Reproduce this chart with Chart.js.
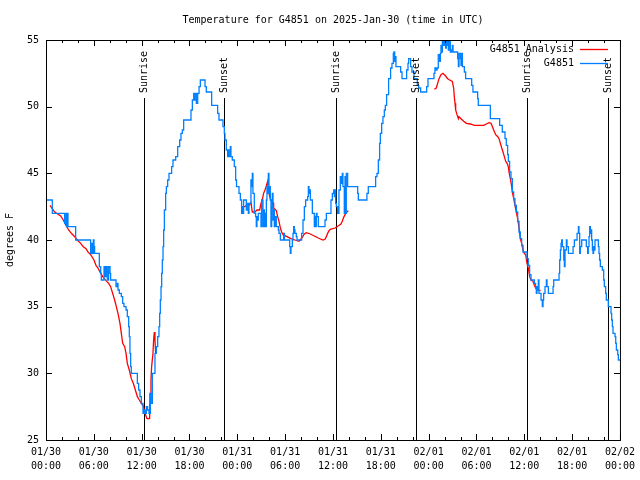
<!DOCTYPE html>
<html>
<head>
<meta charset="utf-8">
<title>Temperature for G4851</title>
<script src="https://cdn.jsdelivr.net/npm/chart.js@4.4.1/dist/chart.umd.min.js"></script>
<style>
  html, body { margin: 0; padding: 0; background: #fff; }
  canvas { display: block; }
</style>
</head>
<body>
<canvas id="chart" width="640" height="480"></canvas>
<script>
// hours since 2025-01-30 00:00 UTC
const obsHours = [0, 0.79, 2.34, 2.51, 2.59, 2.68, 2.76, 3.72, 5.60, 5.77, 5.85, 5.94, 6.02, 6.10, 6.69, 6.86, 6.94, 7.28, 7.44, 7.53,
  7.69, 7.86, 8.03, 8.11, 8.78, 8.95, 9.03, 9.20, 9.45, 9.62, 9.78, 10.04, 10.20, 10.37, 10.45, 10.53, 10.62, 10.70, 11.46, 11.62,
  11.79, 11.96, 12.17, 12.33, 12.42, 12.59, 12.75, 12.92, 13.09, 13.17, 13.34, 13.67, 13.84, 14.01, 14.17, 14.26, 14.34, 14.43, 14.51, 14.59,
  14.68, 14.76, 14.85, 15.01, 15.10, 15.26, 15.43, 15.76, 15.93, 16.27, 16.52, 16.77, 16.93, 17.10, 17.27, 18.19, 18.36, 18.53, 18.61, 18.78,
  18.86, 19.03, 19.20, 19.36, 19.95, 20.11, 20.78, 21.53, 21.70, 22.20, 22.37, 22.45, 22.62, 22.79, 22.87, 22.95, 23.12, 23.20, 23.37, 23.62,
  23.79, 23.90, 24.21, 24.38, 24.54, 24.63, 24.71, 24.79, 25.13, 25.21, 25.38, 25.46, 25.71, 25.80, 25.88, 25.96, 26.13, 26.30, 26.38, 26.46,
  26.55, 26.63, 26.97, 27.05, 27.22, 27.30, 27.39, 27.47, 27.56, 27.64, 27.72, 27.81, 27.89, 27.97, 28.06, 28.14, 28.22, 28.31, 28.39, 28.48,
  28.56, 28.64, 28.73, 28.89, 29.15, 29.23, 29.40, 29.81, 29.90, 30.57, 30.65, 30.73, 30.90, 30.98, 31.07, 31.15, 31.23, 31.40, 31.49, 32.07,
  32.24, 32.41, 32.57, 32.82, 32.91, 32.99, 33.07, 33.16, 33.41, 33.66, 33.74, 33.83, 33.91, 34.00, 34.16, 35.00, 35.17, 35.75, 35.92, 36.09,
  36.17, 36.25, 36.34, 36.42, 36.59, 36.75, 36.92, 37.09, 37.17, 37.25, 37.42, 37.51, 37.59, 37.67, 37.84, 39.10, 39.18, 40.26, 40.43, 41.35,
  41.52, 41.69, 41.85, 41.94, 42.11, 42.27, 42.44, 42.57, 42.73, 42.98, 43.23, 43.40, 43.57, 43.65, 43.74, 43.82, 43.90, 44.49, 44.66, 45.24,
  45.41, 45.49, 45.74, 45.91, 46.16, 46.58, 46.75, 47.00, 47.75, 47.92, 48.67, 48.79, 48.96, 49.05, 49.21, 49.38, 49.47, 49.55, 49.63, 49.72,
  49.88, 49.97, 50.13, 50.22, 50.39, 50.47, 50.55, 50.72, 50.89, 50.97, 51.06, 51.64, 51.73, 51.81, 51.98, 52.06, 52.15, 52.23, 52.48, 52.64,
  53.40, 53.56, 54.15, 54.23, 55.74, 56.91, 57.24, 57.58, 57.74, 57.91, 58.00, 58.16, 58.33, 58.50, 58.67, 58.83, 59.00, 59.17, 59.34, 59.50,
  59.67, 59.84, 60.34, 60.50, 60.67, 60.84, 61.26, 61.42, 61.51, 61.59, 61.68, 61.76, 61.84, 62.10, 62.26, 62.35, 62.43, 62.60, 62.77, 62.85,
  63.02, 63.61, 63.69, 64.36, 64.44, 64.53, 64.61, 64.69, 64.78, 64.95, 65.03, 65.11, 65.28, 65.36, 65.53, 66.12, 66.28, 66.62, 66.79, 66.86,
  66.95, 67.03, 67.20, 67.78, 67.95, 68.03, 68.12, 68.20, 68.29, 68.37, 68.45, 68.54, 68.62, 68.70, 68.79, 68.87, 69.29, 69.37, 69.45, 69.54,
  69.79, 69.96, 70.04, 70.21, 70.29, 70.54, 70.88, 70.96, 71.05, 71.13, 71.38, 71.47, 71.55, 71.72, 71.80, 72.00];
const obsTemps = [43, 42, 41.25, 42, 41, 42, 41, 40, 39, 39.75, 39, 40, 39.5, 39, 38, 37.5, 37, 38, 37.25, 38,
  37, 38, 37.5, 37, 36.5, 36.75, 36.25, 36, 35.75, 35.25, 35, 34.75, 34.25, 33.5, 32.75, 31.5, 30.5, 30, 29.25, 28.75,
  28.25, 27.75, 27, 27.25, 27, 27.5, 27.25, 27, 28.5, 27.75, 30, 31.5, 32, 32.75, 33.5, 34.5, 35.5, 36.5, 37.5, 38.5,
  39.5, 40.75, 42.25, 43.5, 44, 44.5, 45, 45.5, 46, 46.25, 47, 47.5, 48, 48.25, 49, 49.75, 50.5, 51, 50.5, 51,
  50.25, 51, 51.5, 52, 51.5, 51.1, 50.1, 49.5, 49, 48.5, 48, 47.5, 46.75, 46.25, 46.75, 46.25, 47, 46.25, 46, 45.5,
  44.5, 44, 43.5, 43, 42, 42.5, 42, 43, 42.25, 42.75, 42, 42.75, 44.5, 44, 45, 43.5, 42, 41.75, 41, 41.75,
  41.5, 42, 41, 43, 41, 42.25, 41, 42, 41, 43, 44, 43.5, 45, 43.5, 44, 43, 41, 42.5, 43.5, 41.5,
  42.25, 41, 41.75, 41, 40.75, 40.5, 40, 40.5, 40, 39.5, 39, 39.5, 40, 40.5, 41, 40.75, 40.5, 40.25, 40, 40.5,
  41.5, 42.5, 43, 43.25, 44, 43.5, 43.75, 43, 42, 41, 41.75, 41, 42, 41.75, 41, 41.5, 42, 43, 43.5, 43.75,
  43.25, 43.75, 42.75, 42.5, 42, 43.75, 44.75, 44.25, 45, 44, 42, 44.75, 42, 45, 44, 43.5, 43, 43.5, 44, 44.75,
  45, 46, 47.25, 48, 48.75, 49.25, 49.75, 50.1, 50.9, 52.1, 52.9, 53.25, 54, 54.1, 53.4, 53.75, 53, 52.6, 52.1, 52.75,
  53.25, 53.6, 53, 52.6, 52.1, 51.6, 51.4, 51.1, 51.5, 52.1, 52.5, 52.9, 52.75, 52.9, 53.9, 53.4, 54, 54.6, 54.1, 55,
  54.6, 55, 54.4, 55, 54.6, 54.25, 54.9, 54.1, 54.25, 54.6, 54.1, 53.6, 53, 54, 53.6, 53.1, 54, 53, 52.6, 52.1,
  51.6, 51.1, 50.6, 50.1, 49.1, 48.6, 48.1, 47.6, 47.1, 46.4, 45.9, 45.1, 44.6, 43.6, 43.1, 42.6, 42.1, 41.4, 40.6, 40.1,
  39.6, 39.1, 38.6, 38.1, 37.4, 37, 36.75, 36.4, 36, 36.5, 36.25, 37, 36, 35.5, 35, 35.5, 36, 36.5, 37, 36.5,
  36, 36.5, 37, 37.5, 38.5, 39.25, 39.75, 40, 39.5, 38.5, 38, 39.25, 40, 39.5, 39, 39.5, 40, 40.5, 41, 40.5,
  39, 39.5, 40, 39.5, 39, 39.5, 40.25, 41, 40.5, 40.75, 40, 39.25, 39, 39.5, 39.25, 40, 39.5, 39, 38.5, 38,
  37.75, 37, 36.5, 36, 35.5, 35, 34.5, 34, 33.5, 33, 32.75, 32.25, 31.75, 31.4, 31, 31];

// analysis series, null marks a gap
const anaHours = [0.50, 1.09, 1.84, 2.17, 2.51, 2.84, 3.18, 3.60, 3.93, 4.35, 4.68, 5.02, 5.27, 5.60, 6.02, 6.27, 6.52, 6.86, 7.19, 7.53,
  7.86, 8.11, 8.36, 8.61, 8.78, 9.03, 9.28, 9.45, 9.62, 9.87, 10.04, 10.20, 10.45, 10.70, 10.95, 11.21, 11.46, 11.71, 11.96, 12.21,
  12.42, 12.67, 13.00, 13.05, 13.17, 13.25, 13.42, 13.50, 13.59, 13.67, 13.76,
  19.0,
  24.63, 24.96, 25.13, 25.30, 25.46, 25.71, 25.88, 26.22, 26.46, 26.80, 26.97, 27.14, 27.30, 27.47, 27.64, 27.81, 27.89, 27.97, 28.14, 28.31,
  28.48, 28.56, 28.89, 29.06, 29.23, 29.40, 29.56, 29.73, 30.23, 30.73, 31.23, 31.74, 31.90, 32.15, 32.41, 32.66, 33.16, 33.66, 34.16, 34.75,
  35.00, 35.17, 35.33, 35.50, 35.67, 36.25, 36.50, 37.00, 37.17, 37.34, 37.60, 37.92,
  43.0,
  48.71, 48.96, 49.13, 49.30, 49.55, 49.80, 50.13, 50.39, 50.64, 50.97, 51.14, 51.22, 51.31, 51.39, 51.56, 51.73, 51.81, 52.06, 52.40, 52.73,
  53.24, 53.74, 54.32, 54.91, 55.24, 55.58, 55.83, 56.00, 56.16, 56.41, 56.67, 56.83, 57.00, 57.17, 57.33, 57.50, 57.67, 57.84, 58.00, 58.08,
  58.25, 58.42, 58.50, 58.67, 58.83, 59.00, 59.17, 59.34, 59.50, 59.67, 59.84, 60.00, 60.17, 60.34, 60.50, 60.67, 60.84, 61.09, 61.26, 61.42,
  61.59, 62.05];
const anaTemps = [42.6, 42.1, 41.8, 41.5, 41.1, 40.75, 40.5, 40.25, 40, 39.75, 39.5, 39.35, 39.1, 38.9, 38.5, 38.1, 37.9, 37.5, 37.2, 36.95,
  36.75, 36.5, 36, 35.5, 35.1, 34.5, 33.75, 33, 32.25, 32, 31.5, 30.75, 30.25, 29.6, 29.25, 28.75, 28.25, 28, 27.75, 27.55,
  27, 26.6, 26.6, 28.5, 29.5, 30.5, 31.5, 32.5, 33.1, 32.5, 31.5,
  null,
  42.5, 42.5, 42.6, 42.5, 42.6, 42.8, 42.1, 42.1, 42.25, 42.25, 42.75, 43.05, 43.5, 43.75, 44.05, 44.4, 44, 43.5, 43.1, 42.9,
  42.8, 42.4, 42.2, 41.75, 41.4, 40.9, 40.6, 40.4, 40.25, 40.1, 40, 39.9, 40, 40.2, 40.45, 40.55, 40.45, 40.3, 40.15, 40,
  40.05, 40.25, 40.5, 40.7, 40.8, 40.9, 41, 41.2, 41.4, 41.7, 42.0, 42.2,
  null,
  51.3, 51.4, 51.75, 52.1, 52.4, 52.5, 52.3, 52.1, 52, 51.9, 51.4, 50.75, 50.25, 49.75, 49.4, 49.1, 49.25, 49.1, 48.9, 48.75,
  48.7, 48.6, 48.6, 48.6, 48.7, 48.8, 48.75, 48.5, 48.25, 47.9, 47.75, 47.6, 47.25, 46.9, 46.6, 46.25, 45.9, 45.75, 45.5, 45.1,
  44.6, 44, 43.6, 43.1, 42.6, 42.1, 41.6, 40.9, 40.1, 39.75, 39.25, 39, 38.9, 38.25, 37.9, 37.25, 37, 36.9, 36.6, 36.4,
  36.25, 36.2];

const sunHours = [12.33, 22.37, 36.40, 46.42, 60.38, 70.50];
const sunLabels = ['Sunrise', 'Sunset', 'Sunrise', 'Sunset', 'Sunrise', 'Sunset'];

const tickDays = ['01/30', '01/30', '01/30', '01/30', '01/31', '01/31', '01/31', '01/31', '02/01', '02/01', '02/01', '02/01', '02/02'];
const tickTimes = ['00:00', '06:00', '12:00', '18:00', '00:00', '06:00', '12:00', '18:00', '00:00', '06:00', '12:00', '18:00', '00:00'];
const yTicks = [25, 30, 35, 40, 45, 50, 55];

const titleText = 'Temperature for G4851 on 2025-Jan-30 (time in UTC)';
const seriesNames = ['G4851 Analysis', 'G4851'];
const seriesColors = ['#ff0000', '#0080ff'];

const FONT = '10px "DejaVu Sans Mono", "Liberation Mono", monospace';

const gnuplotDecor = {
    id: 'gnuplotDecor',
    beforeDatasetsDraw(chart) {
        const {ctx, chartArea: a, scales: {x}} = chart;
        ctx.save();
        ctx.strokeStyle = '#000';
        ctx.lineWidth = 1;
        sunHours.forEach(h => {
            const px = Math.round(x.getPixelForValue(h)) + 0.5;
            ctx.beginPath();
            ctx.moveTo(px, a.top + 58);
            ctx.lineTo(px, a.bottom);
            ctx.stroke();
        });
        ctx.restore();
    },
    afterDatasetsDraw(chart) {
        const {ctx, chartArea: a, scales: {x, y}} = chart;
        ctx.save();
        ctx.strokeStyle = '#000';
        ctx.fillStyle = '#000';
        ctx.lineWidth = 1;

        // border
        ctx.strokeRect(a.left + 0.5, a.top + 0.5, a.right - a.left, a.bottom - a.top);

        // inward tics, mirrored
        ctx.beginPath();
        for (let h = 0; h <= 72; h += 2) {
            const px = Math.round(x.getPixelForValue(h)) + 0.5;
            const len = h % 6 === 0 ? 6 : 3;
            ctx.moveTo(px, a.bottom);
            ctx.lineTo(px, a.bottom - len);
            ctx.moveTo(px, a.top);
            ctx.lineTo(px, a.top + len);
        }
        yTicks.forEach(v => {
            const py = Math.round(y.getPixelForValue(v)) + 0.5;
            ctx.moveTo(a.left, py);
            ctx.lineTo(a.left + 6, py);
            ctx.moveTo(a.right, py);
            ctx.lineTo(a.right - 6, py);
        });
        ctx.stroke();

        ctx.font = FONT;

        // sunrise / sunset labels
        sunHours.forEach((h, i) => {
            const px = Math.round(x.getPixelForValue(h)) + 0.5;
            ctx.save();
            ctx.translate(px, a.top + 53);
            ctx.rotate(-Math.PI / 2);
            ctx.textAlign = 'left';
            ctx.textBaseline = 'middle';
            ctx.fillText(sunLabels[i], 0, 0);
            ctx.restore();
        });

        // title
        ctx.textAlign = 'center';
        ctx.textBaseline = 'middle';
        ctx.fillText(titleText, (a.left + a.right) / 2, 20);

        // key
        seriesNames.forEach((name, i) => {
            const ky = a.top + 9 + i * 14;
            ctx.fillStyle = '#000';
            ctx.textAlign = 'right';
            ctx.fillText(name, a.right - 46, ky);
            ctx.strokeStyle = seriesColors[i];
            ctx.lineWidth = 1.3;
            ctx.beginPath();
            ctx.moveTo(a.right - 40, ky + 0.5);
            ctx.lineTo(a.right - 12, ky + 0.5);
            ctx.stroke();
        });
        ctx.restore();
    }
};

new Chart(document.getElementById('chart'), {
    type: 'line',
    data: {
        datasets: [
            {
                label: seriesNames[0],
                data: anaHours.map((h, i) => ({x: h, y: anaTemps[i]})),
                borderColor: seriesColors[0],
                borderWidth: 1.3,
                pointRadius: 0,
                spanGaps: false,
                order: 1
            },
            {
                label: seriesNames[1],
                data: obsHours.map((h, i) => ({x: h, y: obsTemps[i]})),
                borderColor: seriesColors[1],
                borderWidth: 1.3,
                pointRadius: 0,
                stepped: true,
                order: 0
            }
        ]
    },
    options: {
        responsive: false,
        animation: false,
        devicePixelRatio: 1,
        layout: { padding: { top: 40, right: 19, left: 0, bottom: 0 } },
        plugins: {
            legend: { display: false },
            title: { display: false },
            tooltip: { enabled: false }
        },
        scales: {
            x: {
                type: 'linear',
                min: 0,
                max: 72,
                grid: { display: false, drawTicks: false },
                border: { display: false },
                afterFit: s => { s.height = 40; },
                ticks: {
                    stepSize: 2,
                    autoSkip: false,
                    maxRotation: 0,
                    padding: 5,
                    color: '#000',
                    font: { family: '"DejaVu Sans Mono", "Liberation Mono", monospace', size: 10, lineHeight: 1.4 },
                    callback: v => (v % 6 === 0 ? [tickDays[v / 6], tickTimes[v / 6]] : '')
                }
            },
            y: {
                min: 25,
                max: 55,
                grid: { display: false, drawTicks: false },
                border: { display: false },
                afterFit: s => { s.width = 46; },
                ticks: {
                    stepSize: 5,
                    padding: 7,
                    color: '#000',
                    font: { family: '"DejaVu Sans Mono", "Liberation Mono", monospace', size: 10 }
                },
                title: {
                    display: true,
                    text: 'degrees F',
                    color: '#000',
                    padding: { top: 4, bottom: 0 },
                    font: { family: '"DejaVu Sans Mono", "Liberation Mono", monospace', size: 10 }
                }
            }
        }
    },
    plugins: [gnuplotDecor]
});
</script>
</body>
</html>
